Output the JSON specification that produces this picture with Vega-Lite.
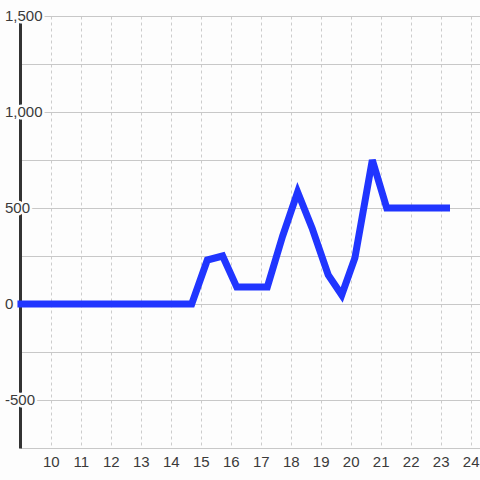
{
  "$schema": "https://vega.github.io/schema/vega-lite/v6.json",
  "width": 460,
  "height": 432,
  "autosize": {"type": "none"},
  "padding": {"left": 20, "top": 16, "right": 0, "bottom": 32},
  "background": "#fdfdfd",
  "config": {
    "view": {"stroke": null},
    "font": "Liberation Sans"
  },
  "datasets": {
    "series": [
      {"x": 8.89, "y": 0},
      {"x": 14.7, "y": 0},
      {"x": 15.22, "y": 229},
      {"x": 15.73, "y": 250},
      {"x": 16.2, "y": 88},
      {"x": 17.22, "y": 88},
      {"x": 17.73, "y": 354},
      {"x": 18.23, "y": 583},
      {"x": 18.71, "y": 396},
      {"x": 19.25, "y": 151},
      {"x": 19.7, "y": 47},
      {"x": 20.14, "y": 240},
      {"x": 20.72, "y": 750},
      {"x": 21.2, "y": 500},
      {"x": 23.31, "y": 500}
    ],
    "ylabels": [
      {"v": 1500, "label": "1,500"},
      {"v": 1000, "label": "1,000"},
      {"v": 500, "label": "500"},
      {"v": 0, "label": "0"},
      {"v": -500, "label": "-500"}
    ]
  },
  "encoding": {
    "x": {
      "type": "quantitative",
      "scale": {"domain": [8.975, 24.31], "nice": false, "zero": false},
      "axis": {
        "title": null,
        "values": [10, 11, 12, 13, 14, 15, 16, 17, 18, 19, 20, 21, 22, 23, 24],
        "domain": false,
        "ticks": false,
        "tickSize": 0,
        "labelPadding": 13,
        "labelBaseline": "middle",
        "labelFontSize": 15,
        "labelColor": "#3a3a3a",
        "labelFont": "Liberation Sans",
        "grid": true,
        "gridColor": "#cccccc",
        "gridDash": [3, 3],
        "gridWidth": 1
      }
    },
    "y": {
      "type": "quantitative",
      "scale": {"domain": [-750, 1500], "nice": false, "zero": false},
      "axis": {
        "title": null,
        "values": [-750, -500, -250, 0, 250, 500, 750, 1000, 1250, 1500],
        "labels": false,
        "ticks": false,
        "domain": true,
        "domainColor": "#333333",
        "domainWidth": 3,
        "grid": true,
        "gridColor": "#c8c8c8",
        "gridWidth": 1
      }
    }
  },
  "layer": [
    {
      "mark": {"type": "rule", "color": "#333333", "strokeWidth": 3},
      "encoding": {
        "y": {"datum": 0, "type": "quantitative"},
        "x": null
      }
    },
    {
      "data": {"name": "ylabels"},
      "mark": {
        "type": "text",
        "align": "left",
        "baseline": "middle",
        "dx": -15,
        "fontSize": 15,
        "font": "Liberation Sans",
        "stroke": "#fdfdfd",
        "strokeWidth": 5,
        "fill": "#fdfdfd"
      },
      "encoding": {
        "x": {"datum": 8.975, "type": "quantitative"},
        "y": {"field": "v", "type": "quantitative"},
        "text": {"field": "label", "type": "nominal"}
      }
    },
    {
      "data": {"name": "ylabels"},
      "mark": {
        "type": "text",
        "align": "left",
        "baseline": "middle",
        "dx": -15,
        "fontSize": 15,
        "font": "Liberation Sans",
        "color": "#3a3a3a"
      },
      "encoding": {
        "x": {"datum": 8.975, "type": "quantitative"},
        "y": {"field": "v", "type": "quantitative"},
        "text": {"field": "label", "type": "nominal"}
      }
    },
    {
      "data": {"name": "series"},
      "mark": {"type": "line", "color": "#2035ff", "strokeWidth": 7, "strokeJoin": "miter"},
      "encoding": {
        "x": {"field": "x", "type": "quantitative"},
        "y": {"field": "y", "type": "quantitative"}
      }
    }
  ]
}
